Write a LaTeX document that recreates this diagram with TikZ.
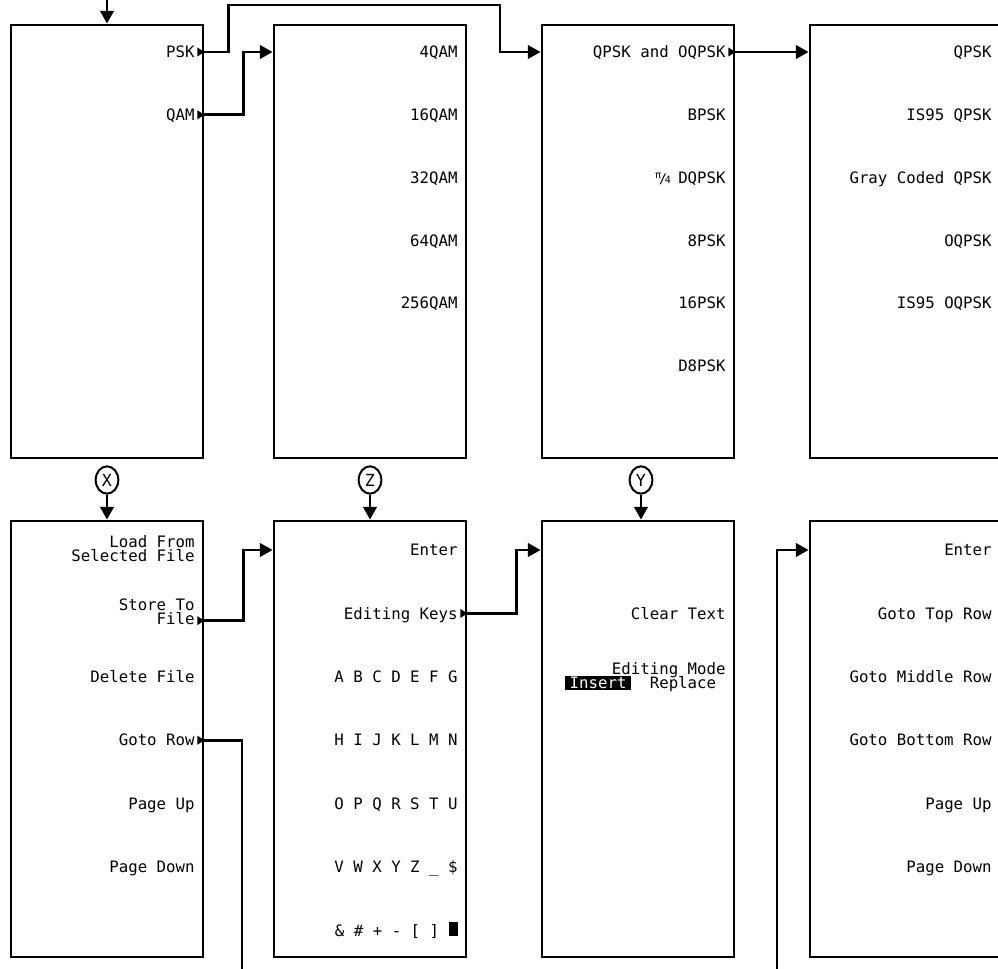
\documentclass[tikz,border=0pt]{standalone}
\usepackage{fontspec}
\setmonofont{DejaVu Sans Mono}
\usetikzlibrary{arrows.meta,shapes.geometric}
\setlength{\lineskiplimit}{-6pt}
\newcommand{\quarterpi}{\makebox[8.5pt][c]{\raisebox{3.6pt}{\fontsize{7.5}{7.5}\selectfont π}\kern-1.6pt{\fontsize{10}{10}\selectfont/}\kern-1.6pt\raisebox{-0.4pt}{\fontsize{7.5}{7.5}\selectfont 4}}}
\newcommand{\invkey}[1]{{\setlength{\fboxsep}{0pt}\colorbox{black}{\rule[-1.2pt]{0pt}{10.6pt}\hspace{3.4pt}\textcolor{white}{#1}\hspace{3.4pt}}}}
\newcommand{\cursorblock}{\rule{6.75pt}{10.5pt}}

\begin{document}
\begin{tikzpicture}[x=0.75pt, y=-0.75pt, line width=2.1pt,
    >={Triangle[length=9.5pt,width=10pt]},
    menu/.style={draw, inner sep=0pt, minimum width=144pt},
    keytext/.style={anchor=east, inner sep=0pt,
      font=\ttfamily\fontsize{11.8}{10.5}\selectfont},
    key/.style={keytext, text height=8.6pt, text depth=0pt},
    tag/.style={draw, ellipse, line width=1.5pt, inner sep=0pt,
      minimum width=17pt, minimum height=20.5pt,
      font=\ttfamily\fontsize{12.5}{12}\selectfont}]
  \useasboundingbox (0,0) rectangle (998,969);
  \clip (0,0) rectangle (998,969);
  \coordinate (top) at (0,0);
  \coordinate (bottom) at (0,969);
  % ---------------- first level menus
  \node[menu, minimum height=324.75pt] (mod) at (107,241.5) {};
  \node[menu, minimum height=324.75pt] (qam) at (370,241.5) {};
  \node[menu, minimum height=324.75pt] (psk) at (638,241.5) {};
  \node[menu, minimum height=324.75pt, minimum width=142.5pt] (qpsk) at (905,241.5) {};
  \node[key] (mod-0) at (196,52) {PSK};
  \node[key] (mod-1) at (196,114.8) {QAM};
  \foreach \t [count=\i from 0] in {4QAM,16QAM,32QAM,64QAM,256QAM}
    \node[key] (qam-\i) at (459,{52+62.8*\i}) {\t};
  \foreach \t [count=\i from 0] in {QPSK and OQPSK,BPSK,{\quarterpi\ DQPSK},8PSK,16PSK,D8PSK}
    \node[key] (psk-\i) at (727,{52+62.8*\i}) {\t};
  \foreach \t [count=\i from 0] in {QPSK,IS95 QPSK,Gray Coded QPSK,OQPSK,IS95 OQPSK}
    \node[key] (qpsk-\i) at (993,{52+62.8*\i}) {\t};
  % ---------------- second level menus
  \node[menu, minimum height=327pt] (file) at (107,739) {};
  \node[menu, minimum height=327pt] (edit) at (370,739) {};
  \node[menu, minimum height=327pt] (mode) at (638,739) {};
  \node[menu, minimum height=327pt, minimum width=142.5pt] (row) at (905,739) {};
  \node[keytext, align=right] (file-0) at (196,549) {Load From\\Selected File};
  \node[keytext, align=right] (file-1) at (196,612) {Store To\\File};
  \foreach \t [count=\i from 2] in {Delete File,Goto Row,Page Up,Page Down}
    \node[key] (file-\i) at (196,{550+63.4*\i}) {\t};
  \foreach \t [count=\i from 0] in {Enter,Editing Keys,A B C D E F G,H I J K L M N,
      O P Q R S T U,V W X Y Z \_ \$,\& \# + - [ ] \cursorblock}
    \node[key] (edit-\i) at (459,{550+63.4*\i}) {\t};
  \node[key] (mode-1) at (727,613.4) {Clear Text};
  \node[keytext, align=right] (mode-2) at (727,677) {Editing Mode\\\invkey{Insert}\hspace{7pt} Replace\phantom{x}};
  \foreach \t [count=\i from 0] in {Enter,Goto Top Row,Goto Middle Row,Goto Bottom Row,Page Up,Page Down}
    \node[key] (row-\i) at (993,{550+63.4*\i}) {\t};
  \coordinate (store) at ([yshift=4.3pt]file-1.south);
  % submenu markers
  \foreach \m in {mod.east |- mod-0,mod.east |- mod-1,psk.east |- psk-0,
      file.east |- store,file.east |- file-3,edit.east |- edit-1}
    \fill (\m) ++(-7,-4.5) -- ++(7,4.5) -- ++(-7,4.5) -- cycle;
  % connectors
  \draw[->] (mod.north |- top) -- (mod.north);
  \draw[->] (mod.east |- mod-0) -- ++(24,0) |- (500,5) |- (psk.west |- psk-0);
  \draw[->] (mod.east |- mod-1) -- ++(39,0) |- (qam.west |- qam-0);
  \draw[->] (psk.east |- psk-0) -- (qpsk.west |- qpsk-0);
  \node[tag] (tag-x) at (107,480) {X};
  \node[tag] (tag-z) at (370,480) {Z};
  \node[tag] (tag-y) at (641,480) {Y};
  \draw[->] (tag-x) -- (tag-x |- file.north);
  \draw[->] (tag-z) -- (tag-z |- edit.north);
  \draw[->] (tag-y) -- (tag-y |- mode.north);
  \draw[->] (file.east |- store) -- ++(39,0) |- (edit.west |- edit-0);
  \draw[->] (edit.east |- edit-1) -- ++(49,0) |- (mode.west |- edit-0);
  \draw (file.east |- file-3) -| (242,969);
  \draw[->] (777,969) |- (row.west |- row-0);
\end{tikzpicture}
\end{document}
